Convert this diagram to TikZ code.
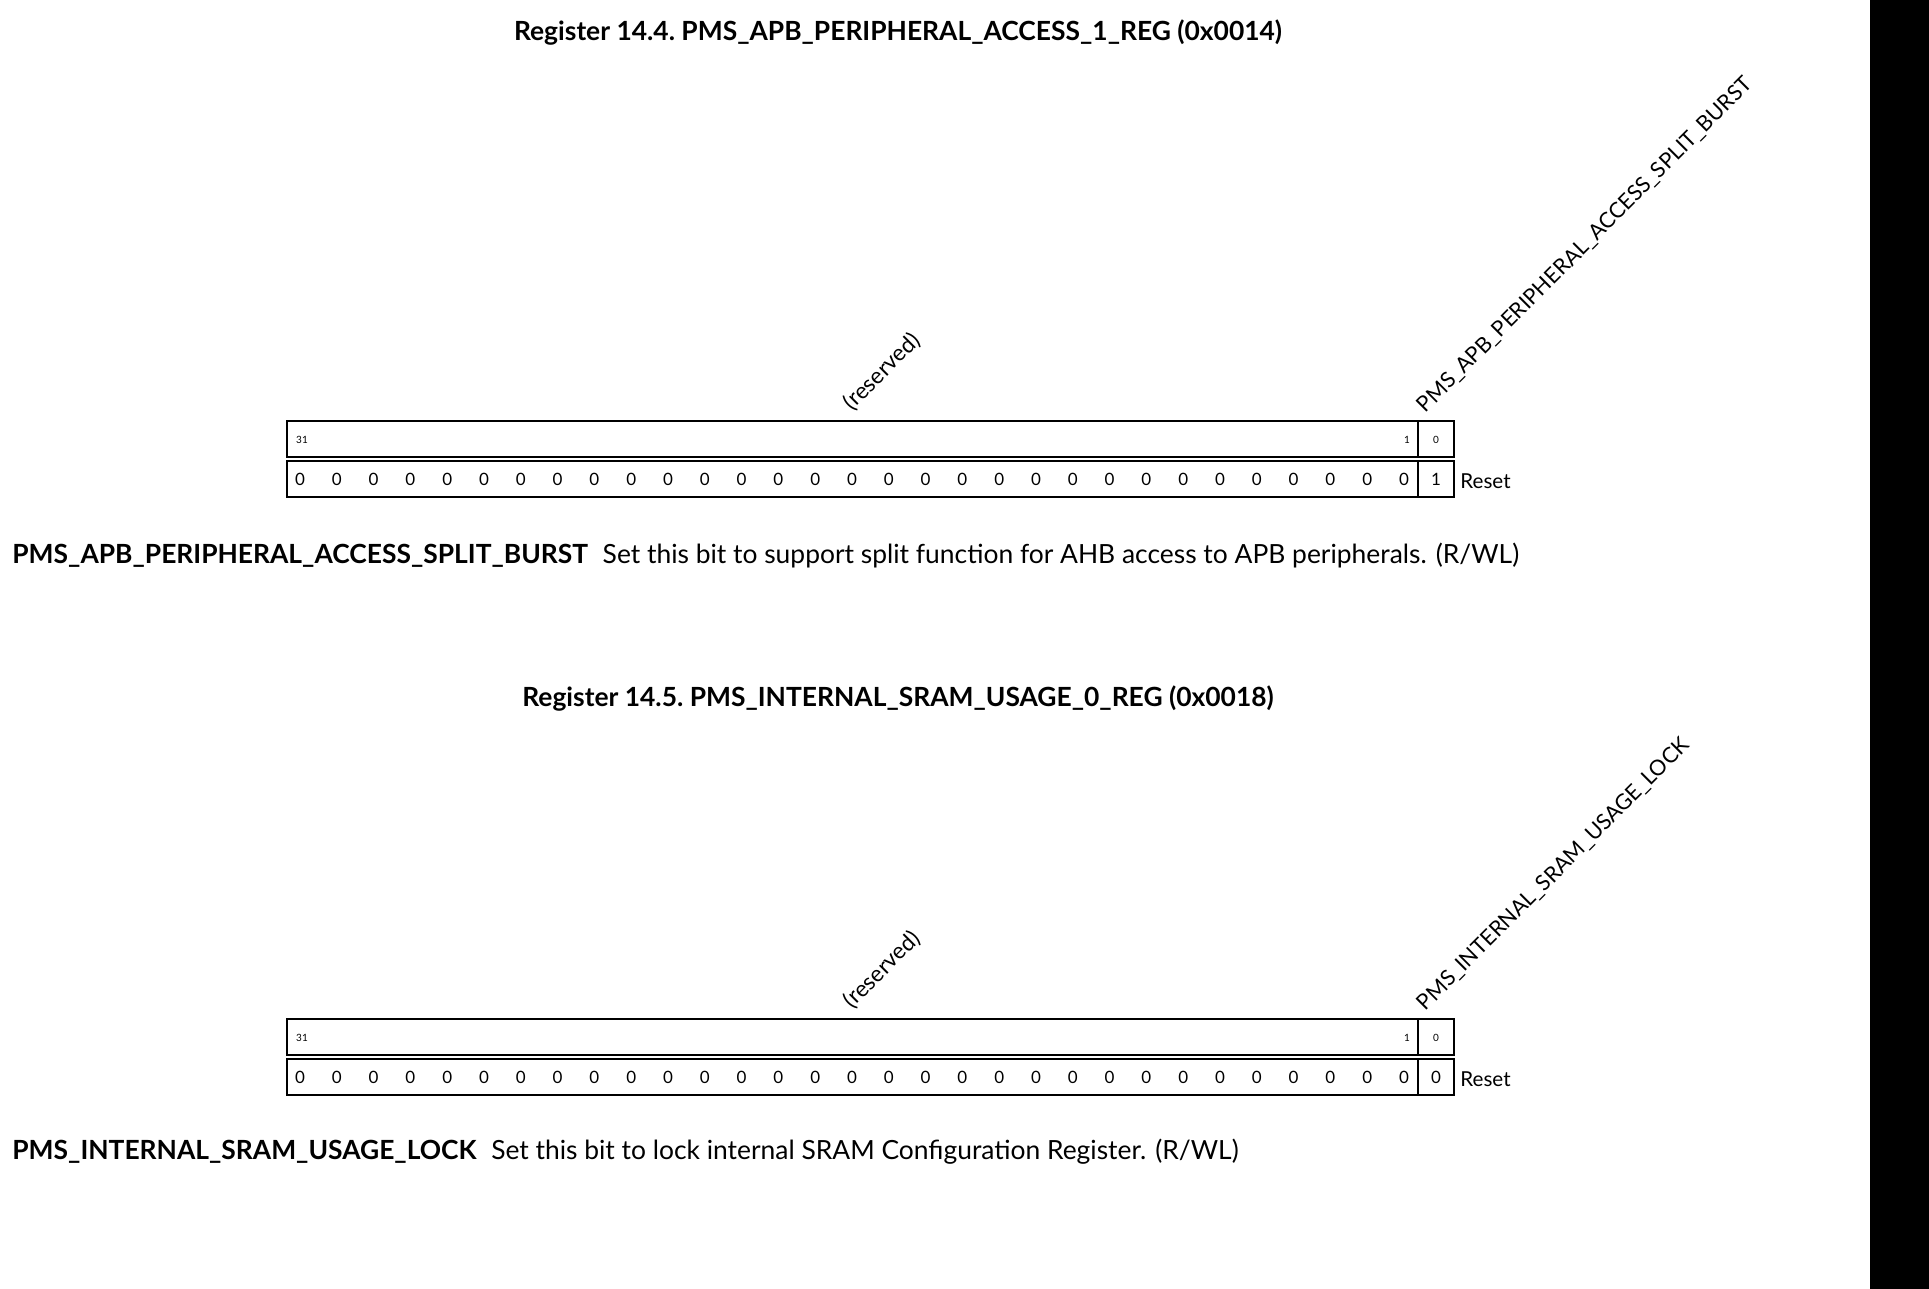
\documentclass[tikz,border=0pt]{standalone}
\usepackage{fontspec}
\setmainfont{Lato}
\usepackage{tikz}
\usetikzlibrary{positioning}

\tikzset{
	regtitle/.style={font=\fontsize{13.2}{15}\selectfont\bfseries},
	fieldlabel/.style={font=\fontsize{10.8}{12}\selectfont, rotate=45, anchor=south west, inner sep=0pt},
	bitnum/.style={font=\fontsize{5}{6}\selectfont, inner sep=0pt},
	bitval/.style={font=\fontsize{8.5}{10}\selectfont, inner sep=0pt},
	resetlabel/.style={font=\fontsize{10.3}{12}\selectfont, anchor=west, inner sep=0pt},
	regbox/.style={draw, line width=0.8pt},
	fieldname/.style={font=\fontsize{13.2}{15}\selectfont\bfseries, anchor=base west, inner sep=0pt},
	fielddesc/.style={font=\fontsize{13.2}{15}\selectfont, inner sep=0pt}
}

\begin{document}
\begin{tikzpicture}[x=0.5pt,y=-0.5pt]
	\useasboundingbox (0,0) rectangle (1929,1289);
	\fill[black] (1870,0) rectangle (1929,1289);

	% Register 14.4 starts here
	\node (titleA) at (898,33) [regtitle] {Register 14.4.\ PMS\_APB\_PERIPHERAL\_ACCESS\_1\_REG (0x0014)};
	\node (resvA) at (855,414) [fieldlabel, font=\fontsize{11.3}{12}\selectfont] {(reserved)};
	\node (splitA) at (1428,416) [fieldlabel] {PMS\_APB\_PERIPHERAL\_ACCESS\_SPLIT\_BURST};

	\draw[regbox] (287,421) rectangle (1454,457);
	\draw[regbox] (1418,421) -- (1418,457);
	\draw[regbox] (287,461) rectangle (1454,497);
	\draw[regbox] (1418,461) -- (1418,497);

	\node (hiA) at (302,440) [bitnum] {31};
	\node (loA) at (1407,440) [bitnum] {1};
	\node (zeroA) at (1436,440) [bitnum] {0};
	\foreach \i in {0,...,30}
		\node (valA\i) at (300+\i*36.8,479) [bitval] {0};
	\node (bitA) at (1436,479) [bitval] {1};
	\node (resetA) at (1460,481) [resetlabel] {Reset};

	\node (nameA) at (12,563) [fieldname] {PMS\_APB\_PERIPHERAL\_ACCESS\_SPLIT\_BURST};
	\node (descA) [fielddesc, right=7pt of nameA.base east, anchor=base west] {Set this bit to support split function for AHB access to APB peripherals. (R/WL)};

	% Register 14.5 starts here
	\node (titleB) at (898,699) [regtitle] {Register 14.5.\ PMS\_INTERNAL\_SRAM\_USAGE\_0\_REG (0x0018)};
	\node (resvB) at (855,1012) [fieldlabel, font=\fontsize{11.3}{12}\selectfont] {(reserved)};
	\node (lockB) at (1428,1014) [fieldlabel] {PMS\_INTERNAL\_SRAM\_USAGE\_LOCK};

	\draw[regbox] (287,1019) rectangle (1454,1055);
	\draw[regbox] (1418,1019) -- (1418,1055);
	\draw[regbox] (287,1059) rectangle (1454,1095);
	\draw[regbox] (1418,1059) -- (1418,1095);

	\node (hiB) at (302,1038) [bitnum] {31};
	\node (loB) at (1407,1038) [bitnum] {1};
	\node (zeroB) at (1436,1038) [bitnum] {0};
	\foreach \i in {0,...,30}
		\node (valB\i) at (300+\i*36.8,1077) [bitval] {0};
	\node (bitB) at (1436,1077) [bitval] {0};
	\node (resetB) at (1460,1079) [resetlabel] {Reset};

	\node (nameB) at (12,1159) [fieldname] {PMS\_INTERNAL\_SRAM\_USAGE\_LOCK};
	\node (descB) [fielddesc, right=7pt of nameB.base east, anchor=base west] {Set this bit to lock internal SRAM Configuration Register. (R/WL)};

\end{tikzpicture}
\end{document}
